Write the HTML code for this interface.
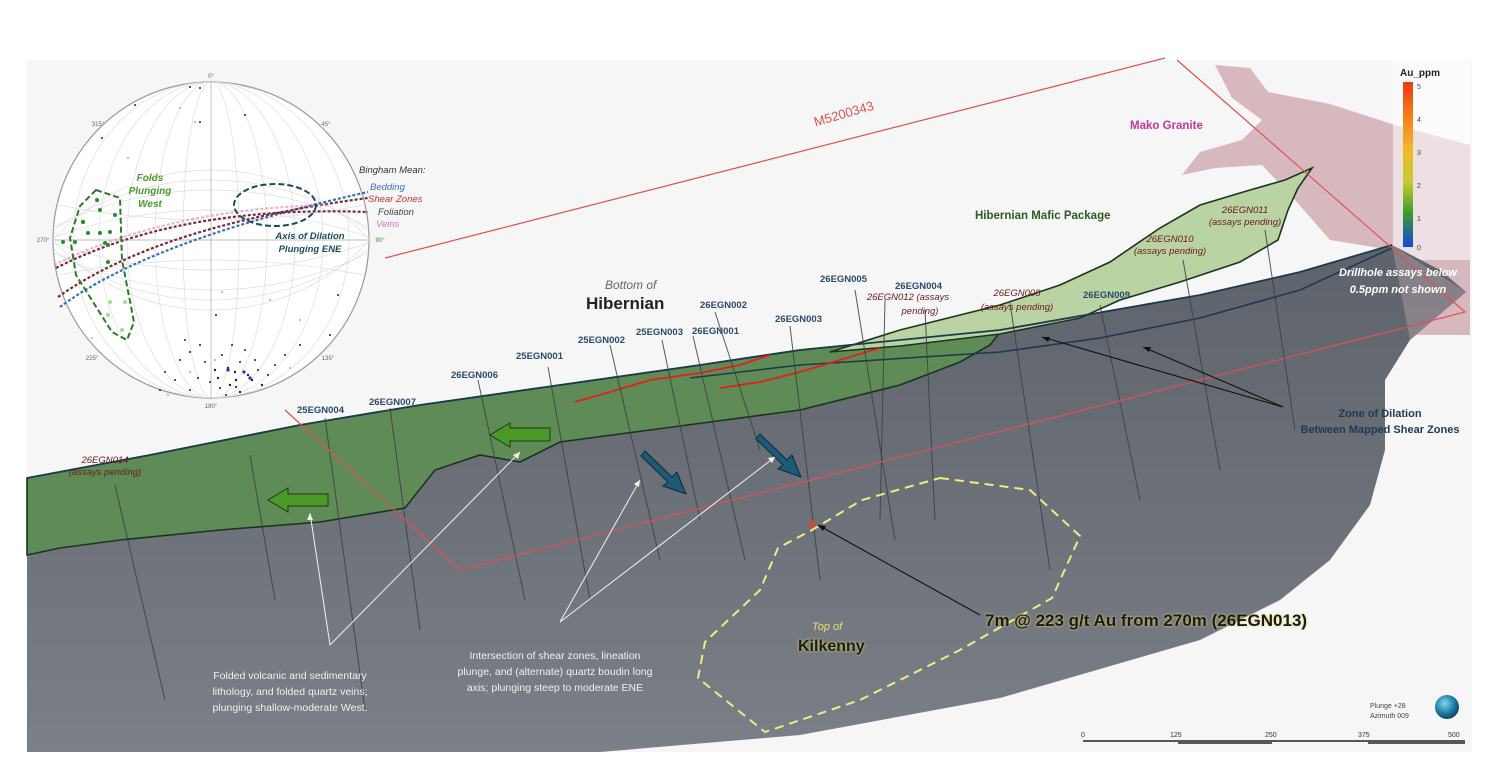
<!DOCTYPE html>
<html><head><meta charset="utf-8"><style>
html,body{margin:0;padding:0;background:#fff;width:1495px;height:758px;overflow:hidden}
svg{display:block}
text{font-family:"Liberation Sans",sans-serif}
</style></head><body>
<svg width="1495" height="758" viewBox="0 0 1495 758" xmlns="http://www.w3.org/2000/svg">
<defs>
<linearGradient id="gb" x1="0" y1="0" x2="0" y2="1"><stop offset="0" stop-color="#5d626b"/><stop offset="1" stop-color="#7b7f87"/></linearGradient>
<linearGradient id="cb" x1="0" y1="0" x2="0" y2="1"><stop offset="0" stop-color="#f03a10"/><stop offset="0.2" stop-color="#f57b1c"/><stop offset="0.4" stop-color="#f2b62a"/><stop offset="0.6" stop-color="#c8cc30"/><stop offset="0.8" stop-color="#3a9a30"/><stop offset="1" stop-color="#1446d8"/></linearGradient>
<radialGradient id="gl" cx="0.4" cy="0.35" r="0.7"><stop offset="0" stop-color="#7fd8ee"/><stop offset="0.6" stop-color="#1d7aa0"/><stop offset="1" stop-color="#0b3d55"/></radialGradient>
<filter id="glow"><feGaussianBlur stdDeviation="1.2"/></filter>
<clipPath id="cc"><circle cx="211" cy="240" r="158"/></clipPath>
</defs>
<rect x="27" y="60" width="1445" height="692" fill="#f6f6f7"/>

<path d="M1215,65 L1250,68 L1268,92 L1330,104 L1395,125 L1470,145 L1470,335 L1400,335 L1392,250 L1330,240 L1295,200 L1262,165 L1215,168 L1182,175 L1200,152 L1242,140 L1262,120 L1232,98 Z" fill="#cfa9b0" opacity="0.8"/>
<rect x="1393" y="60" width="77" height="200" fill="#fff" opacity="0.55"/>

<path d="M27,478 L150,455 L300,425 L420,405 L560,385 L700,365 L800,350 L1000,330 L1200,295 L1300,272 L1392,245 L1440,270 L1466,292 L1410,340 L1385,380 L1385,450 L1370,505 L1330,560 L1280,600 L1200,640 L1000,698 L800,735 L600,752 L27,752 Z" fill="url(#gb)"/>
<path d="M1392,245 L1466,292 L1410,340" fill="#d0b4ba" opacity="0.35"/>

<path d="M27,478 L150,455 L300,425 L420,405 L560,385 L700,365 L800,350 L900,340 L1000,332 L990,345 L960,362 L900,385 L800,410 L650,430 L560,442 L520,462 L480,455 L435,470 L405,508 L320,522 L220,530 L120,540 L60,548 L27,555 Z" fill="#5f8c56" stroke="#1d3322" stroke-width="1.6"/>
<path d="M830,352 L900,330 L1000,305 L1060,285 L1110,262 L1160,228 L1200,205 L1250,190 L1285,180 L1312,168 L1298,188 L1288,210 L1278,240 L1240,262 L1180,282 L1120,300 L1080,318 L1050,324 L1000,334 L900,346 Z" fill="#b9d3a2" stroke="#1d3322" stroke-width="1.6"/>

<path d="M27,478 L150,455 L300,425 L420,405 L560,385 L700,365 L800,350 L1000,330 L1200,295 L1300,272 L1392,245" fill="none" stroke="#1e3a4e" stroke-width="1.8"/>
<path d="M690,378 L800,365 L1000,352 L1100,338 L1200,318 L1300,290 L1392,248" fill="none" stroke="#1e3a4e" stroke-width="1.6"/>
<path d="M575,402 L610,392 L650,380 L700,373 L740,365 L770,355" fill="none" stroke="#e81c1c" stroke-width="1.8"/>
<path d="M720,388 L760,382 L800,372 L840,360 L880,348" fill="none" stroke="#e81c1c" stroke-width="1.8"/>

<g stroke="#3a3f44" stroke-width="1" opacity="0.85">
<line x1="325" y1="418" x2="365" y2="710"/>
<line x1="390" y1="408" x2="420" y2="630"/>
<line x1="478" y1="380" x2="525" y2="600"/>
<line x1="548" y1="367" x2="590" y2="600"/>
<line x1="610" y1="345" x2="660" y2="560"/>
<line x1="662" y1="340" x2="700" y2="520"/>
<line x1="693" y1="336" x2="745" y2="560"/>
<line x1="715" y1="312" x2="760" y2="450"/>
<line x1="790" y1="326" x2="820" y2="580"/>
<line x1="855" y1="290" x2="895" y2="540"/>
<line x1="885" y1="300" x2="880" y2="520"/>
<line x1="925" y1="310" x2="935" y2="520"/>
<line x1="1010" y1="303" x2="1050" y2="570"/>
<line x1="1100" y1="305" x2="1140" y2="500"/>
<line x1="1183" y1="260" x2="1220" y2="470"/>
<line x1="1265" y1="230" x2="1295" y2="430"/>
<line x1="115" y1="485" x2="165" y2="700"/>
<line x1="250" y1="455" x2="275" y2="600"/>
</g>

<g stroke="#e05050" stroke-width="1.2" fill="none">
<line x1="385" y1="258" x2="1165" y2="58"/>
<polyline points="1177,60 1465,312 460,570 285,410"/>
</g>
<text x="845" y="118" font-size="13" fill="#e05050" transform="rotate(-16 845 118)" text-anchor="middle">M5200343</text>

<g fill="#4a9a2a" stroke="#1d3a12" stroke-width="1">
<path d="M550,428 L550,441 L510,441 L510,447 L490,435 L510,423 L510,428 Z"/>
<path d="M328,494 L328,506 L288,506 L288,512 L268,500 L288,488 L288,494 Z"/>
</g>
<g fill="#1c5a78" stroke="#0c2a3a" stroke-width="1">
<path d="M645,451 L672,477 L677,472 L686,494 L663,486 L668,482 L641,456 Z"/>
<path d="M760,434 L787,460 L792,455 L801,477 L778,469 L783,465 L756,439 Z"/>
</g>
<g stroke="#f2f2f2" stroke-width="1" fill="none">
<line x1="330" y1="645" x2="520" y2="452"/><line x1="330" y1="645" x2="310" y2="513"/>
<line x1="560" y1="622" x2="640" y2="480"/><line x1="560" y1="622" x2="775" y2="457"/>
</g>
<g fill="#f2f2f2"><path d="M520,452 l-2,7 l-5,-4z"/><path d="M310,513 l3,7 l-6,0z"/><path d="M640,480 l-1,7 l-5,-3z"/><path d="M775,457 l-3,6 l-4,-5z"/></g>
<g stroke="#111" stroke-width="1.1">
<line x1="980" y1="615" x2="818" y2="525"/>
<line x1="1283" y1="407" x2="1042" y2="337"/><line x1="1283" y1="407" x2="1143" y2="347"/>
</g>
<g fill="#111"><path d="M818,525 l8,1 l-3,5z"/><path d="M1042,337 l8,0 l-2,5z"/><path d="M1143,347 l8,0 l-2,5z"/></g>
<ellipse cx="812" cy="524" rx="3" ry="5" fill="#c0503a"/>

<polygon points="940,478 1030,490 1080,536 1052,598 960,650 860,700 765,732 698,678 705,642 760,590 778,548 812,530 862,500" fill="none" stroke="#eded80" stroke-width="2" stroke-dasharray="9,6"/>

<text x="1400" y="76" font-size="10" font-weight="bold" fill="#222">Au_ppm</text>
<rect x="1403" y="82" width="10" height="165" fill="url(#cb)"/>
<g font-size="7" fill="#444"><text x="1417" y="89">5</text><text x="1417" y="122">4</text><text x="1417" y="155">3</text><text x="1417" y="188">2</text><text x="1417" y="221">1</text><text x="1417" y="250">0</text></g>

<text x="1130" y="129" font-size="11.5" font-weight="bold" fill="#c2379a">Mako Granite</text>
<text x="975" y="219" font-size="11.5" font-weight="bold" fill="#2f5a24">Hibernian Mafic Package</text>
<g font-size="9.5" font-style="italic" fill="#6a1a1a" text-anchor="middle">
<text x="1245" y="213">26EGN011</text><text x="1245" y="225">(assays pending)</text>
<text x="1170" y="242">26EGN010</text><text x="1170" y="254">(assays pending)</text>
<text x="1017" y="296">26EGN008</text><text x="1017" y="310">(assays pending)</text>
<text x="908" y="300">26EGN012 (assays</text><text x="920" y="314">pending)</text>
<text x="105" y="463">26EGN014</text><text x="105" y="475">(assays pending)</text>
</g>
<g font-size="9.5" font-weight="bold" fill="#2a4a6a">
<text x="1083" y="298">26EGN009</text><text x="895" y="289">26EGN004</text><text x="820" y="282">26EGN005</text>
<text x="775" y="322">26EGN003</text><text x="700" y="308">26EGN002</text><text x="692" y="334">26EGN001</text>
<text x="636" y="335">25EGN003</text><text x="578" y="343">25EGN002</text><text x="516" y="359">25EGN001</text>
<text x="451" y="378">26EGN006</text><text x="369" y="405">26EGN007</text><text x="297" y="413">25EGN004</text>
</g>
<text x="605" y="289" font-size="12" font-style="italic" fill="#666">Bottom of</text>
<text x="586" y="309" font-size="17" font-weight="bold" fill="#222">Hibernian</text>
<g font-size="11" font-weight="bold" font-style="italic" fill="#fff" text-anchor="middle">
<text x="1398" y="276">Drillhole assays below</text><text x="1398" y="293">0.5ppm not shown</text></g>
<g font-size="11" font-weight="bold" fill="#1e3a52" text-anchor="middle">
<text x="1380" y="417">Zone of Dilation</text><text x="1380" y="433">Between Mapped Shear Zones</text></g>
<g font-size="10.5" fill="#f0f0f0" text-anchor="middle">
<text x="290" y="679">Folded volcanic and sedimentary</text><text x="290" y="695">lithology, and folded quartz veins;</text><text x="290" y="711">plunging shallow-moderate West.</text>
<text x="555" y="659">Intersection of shear zones, lineation</text><text x="555" y="675">plunge, and (alternate) quartz boudin long</text><text x="555" y="691">axis; plunging steep to moderate ENE</text></g>
<text x="812" y="630" font-size="11" font-style="italic" fill="#e8e070">Top of</text>
<text x="798" y="651" font-size="16" font-weight="bold" fill="#e8e060" filter="url(#glow)">Kilkenny</text>
<text x="798" y="651" font-size="16" font-weight="bold" fill="#1a1a1a">Kilkenny</text>
<text x="985" y="626" font-size="17" font-weight="bold" fill="#e8e060" filter="url(#glow)">7m @ 223 g/t Au from 270m (26EGN013)</text>
<text x="985" y="626" font-size="17" font-weight="bold" fill="#1a1a1a">7m @ 223 g/t Au from 270m (26EGN013)</text>

<text x="1370" y="708" font-size="7" fill="#444">Plunge +28</text><text x="1370" y="718" font-size="7" fill="#444">Azimuth 009</text>
<circle cx="1447" cy="707" r="12" fill="url(#gl)"/>
<g font-size="7" fill="#333"><text x="1081" y="737">0</text><text x="1170" y="737">125</text><text x="1265" y="737">250</text><text x="1358" y="737">375</text><text x="1448" y="737">500</text></g>
<path d="M1083,741 H1465 M1178,743 H1272 M1368,743 H1465" stroke="#222" stroke-width="1.5"/>

<circle cx="211" cy="240" r="158" fill="#fff" stroke="#999" stroke-width="1.2"/>
<g clip-path="url(#cc)" fill="none" stroke="#ddd" stroke-width="0.7">
<ellipse cx="211" cy="240" rx="28" ry="158"/><ellipse cx="211" cy="240" rx="56" ry="158"/><ellipse cx="211" cy="240" rx="84" ry="158"/><ellipse cx="211" cy="240" rx="112" ry="158"/><ellipse cx="211" cy="240" rx="138" ry="158"/>
<circle cx="211" cy="-560" r="780"/><circle cx="211" cy="-200" r="470"/><circle cx="211" cy="-60" r="350"/><circle cx="211" cy="30" r="270"/><circle cx="211" cy="95" r="215"/>
<circle cx="211" cy="1040" r="780"/><circle cx="211" cy="680" r="470"/><circle cx="211" cy="540" r="350"/><circle cx="211" cy="450" r="270"/><circle cx="211" cy="385" r="215"/>
<line x1="53" y1="240" x2="369" y2="240" stroke="#aaa"/><line x1="211" y1="82" x2="211" y2="398" stroke="#aaa"/>
</g>
<g font-size="6" fill="#666" text-anchor="middle"><text x="211" y="78">0°</text><text x="211" y="408">180°</text><text x="43" y="242">270°</text><text x="380" y="242">90°</text><text x="98" y="126">315°</text><text x="326" y="126">45°</text><text x="92" y="360">225°</text><text x="328" y="360">135°</text></g>
<g fill="none" stroke-width="2.2" stroke-dasharray="3,2">
<path d="M60,307 Q150,240 368,192" stroke="#3a70c0"/>
<path d="M58,297 Q160,225 368,198" stroke="#7a2a3a"/>
<path d="M56,268 Q180,205 368,212" stroke="#7a2a3a"/>
<path d="M54,265 Q170,208 330,205" stroke="#e07fb0" opacity="0.6"/>
</g>
<path d="M96,190 L120,198 L122,260 L134,322 L127,340 L112,332 L76,275 L70,238 L80,206 Z" fill="none" stroke="#2f7a2a" stroke-width="2" stroke-dasharray="6,3"/>
<ellipse cx="275" cy="205" rx="41" ry="21" fill="none" stroke="#1e4a5e" stroke-width="2" stroke-dasharray="6,3"/>
<g fill="#2a8a2a"><circle cx="97" cy="200" r="2"/><circle cx="100" cy="210" r="2"/><circle cx="83" cy="222" r="2.2"/><circle cx="88" cy="233" r="2"/><circle cx="100" cy="233" r="2"/><circle cx="110" cy="232" r="2"/><circle cx="108" cy="245" r="2"/><circle cx="75" cy="242" r="2"/><circle cx="63" cy="242" r="2"/><circle cx="115" cy="215" r="2"/><circle cx="108" cy="262" r="2"/><circle cx="105" cy="243" r="2"/></g>
<g fill="#9ee08a"><circle cx="110" cy="302" r="2"/><circle cx="125" cy="302" r="2"/><circle cx="108" cy="315" r="2"/><circle cx="122" cy="330" r="2"/></g>
<g fill="#222">
<circle cx="190" cy="87" r="1"/><circle cx="200" cy="88" r="1"/><circle cx="135" cy="105" r="1"/><circle cx="245" cy="115" r="1"/><circle cx="200" cy="122" r="1"/><circle cx="102" cy="138" r="1"/><circle cx="338" cy="295" r="1"/><circle cx="216" cy="315" r="1"/>
<circle cx="185" cy="340" r="1"/><circle cx="190" cy="352" r="1"/><circle cx="200" cy="345" r="1"/><circle cx="180" cy="360" r="1"/><circle cx="205" cy="362" r="1"/><circle cx="215" cy="370" r="1.2"/><circle cx="222" cy="355" r="1"/><circle cx="228" cy="368" r="1.2"/><circle cx="235" cy="372" r="1.2"/><circle cx="240" cy="362" r="1"/><circle cx="248" cy="375" r="1.2"/><circle cx="252" cy="380" r="1.2"/><circle cx="258" cy="370" r="1"/><circle cx="262" cy="385" r="1.2"/><circle cx="230" cy="385" r="1.2"/><circle cx="220" cy="388" r="1"/><circle cx="210" cy="382" r="1"/><circle cx="198" cy="378" r="1"/><circle cx="190" cy="390" r="1"/><circle cx="175" cy="380" r="1"/><circle cx="165" cy="372" r="1"/><circle cx="240" cy="392" r="1.2"/><circle cx="226" cy="395" r="1"/><circle cx="268" cy="375" r="1"/><circle cx="275" cy="365" r="1"/><circle cx="245" cy="350" r="1"/><circle cx="232" cy="345" r="1"/><circle cx="255" cy="360" r="1"/><circle cx="218" cy="378" r="1.2"/><circle cx="236" cy="380" r="1.2"/><circle cx="160" cy="390" r="1"/><circle cx="285" cy="355" r="1"/><circle cx="300" cy="345" r="1"/><circle cx="330" cy="335" r="1"/>
</g>
<g fill="#2030d0"><circle cx="228" cy="370" r="1.6"/><circle cx="244" cy="372" r="1.6"/><circle cx="250" cy="378" r="1.6"/><circle cx="236" cy="387" r="1.2"/></g>
<g fill="#e090b0"><circle cx="180" cy="108" r="1"/><circle cx="195" cy="122" r="1"/><circle cx="128" cy="158" r="1"/><circle cx="222" cy="292" r="1"/><circle cx="270" cy="300" r="1"/><circle cx="300" cy="320" r="1"/><circle cx="190" cy="372" r="1"/><circle cx="215" cy="360" r="1"/><circle cx="260" cy="390" r="1"/><circle cx="290" cy="368" r="1"/><circle cx="168" cy="395" r="1"/><circle cx="92" cy="338" r="1"/></g>
<g font-size="10" font-weight="bold" font-style="italic" fill="#4a9a2a" text-anchor="middle"><text x="150" y="181">Folds</text><text x="150" y="194">Plunging</text><text x="150" y="207">West</text></g>
<g font-size="9.5" font-weight="bold" font-style="italic" fill="#1e4a5e" text-anchor="middle"><text x="310" y="239">Axis of Dilation</text><text x="310" y="252">Plunging ENE</text></g>
<g font-size="9.5" font-style="italic"><text x="359" y="173" fill="#333">Bingham Mean:</text><text x="370" y="190" fill="#3a70c0">Bedding</text><text x="368" y="202" fill="#d03030">Shear Zones</text><text x="378" y="215" fill="#444">Foliation</text><text x="376" y="227" fill="#e070c0">Veins</text></g>
</svg>
</body></html>
